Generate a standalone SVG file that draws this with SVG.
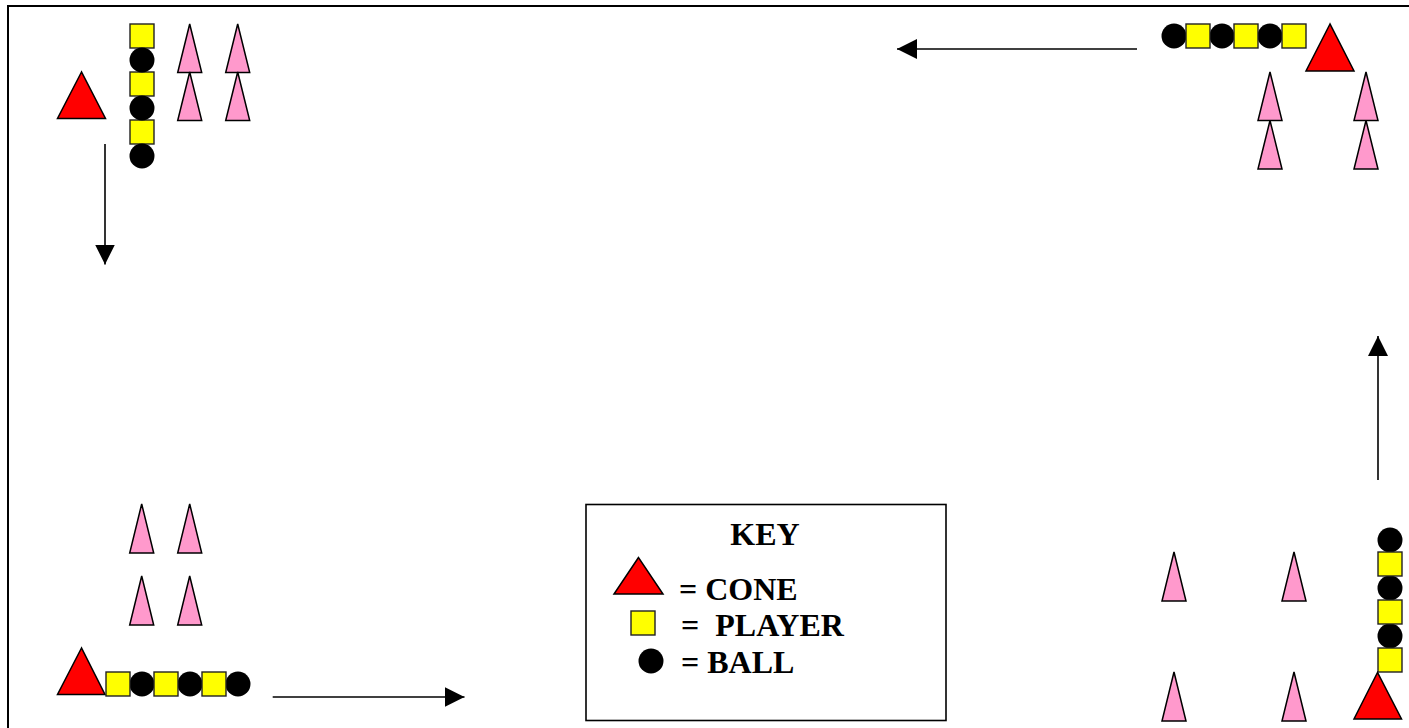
<svg xmlns="http://www.w3.org/2000/svg" width="1409" height="728" viewBox="0 0 1409 728">
<style>
.frame{fill:#fff;stroke:#000;stroke-width:2}
.cone{fill:#ff99cc;stroke:#000;stroke-width:1.5;stroke-linejoin:miter}
.red{fill:#ff0000;stroke:#000;stroke-width:1.5}
.player{fill:#ffff00;stroke:#222;stroke-width:1.4}
.ball{fill:#000}
.conn{stroke:#000;stroke-width:1.6;fill:none;marker-end:url(#arrow)}
.keybox{fill:#fff;stroke:#000;stroke-width:1.6}
.kt{font-family:"Liberation Serif","Times New Roman",serif;font-weight:bold;font-size:32px;fill:#000}
</style>
<defs>
<marker id="arrow" markerUnits="userSpaceOnUse" markerWidth="20" markerHeight="20" refX="20" refY="10" orient="auto">
<path d="M0,0 L20,10 L0,20 Z" fill="#000"/>
</marker>
</defs>
<rect x="0" y="0" width="1409" height="728" fill="#fff"/>
<rect class="frame" x="8" y="6" width="1420" height="740"/>

<g id="group-top-left">
<polygon class="red" points="81.5,72 57.5,118.5 105.5,118.5"/>
<rect class="player" x="130" y="24" width="24" height="24"/>
<rect class="player" x="130" y="72" width="24" height="24"/>
<rect class="player" x="130" y="120" width="24" height="24"/>
<circle class="ball" cx="142" cy="60" r="12.5"/>
<circle class="ball" cx="142" cy="108" r="12.5"/>
<circle class="ball" cx="142" cy="156" r="12.5"/>
<polygon class="cone" points="189.7,24 177.7,72.5 201.7,72.5"/>
<polygon class="cone" points="237.7,24 225.7,72.5 249.7,72.5"/>
<polygon class="cone" points="189.7,72 177.7,120.5 201.7,120.5"/>
<polygon class="cone" points="237.7,72 225.7,120.5 249.7,120.5"/>
</g>

<g id="group-top-right">
<circle class="ball" cx="1174" cy="36" r="12.5"/>
<circle class="ball" cx="1222" cy="36" r="12.5"/>
<circle class="ball" cx="1270" cy="36" r="12.5"/>
<rect class="player" x="1186" y="24" width="24" height="24"/>
<rect class="player" x="1234" y="24" width="24" height="24"/>
<rect class="player" x="1282" y="24" width="24" height="24"/>
<polygon class="red" points="1330,24 1306,71 1354,71"/>
<polygon class="cone" points="1270,72 1258,120.5 1282,120.5"/>
<polygon class="cone" points="1366,72 1354,120.5 1378,120.5"/>
<polygon class="cone" points="1270,120.5 1258,169 1282,169"/>
<polygon class="cone" points="1366,120.5 1354,169 1378,169"/>
</g>

<g id="group-bottom-left">
<polygon class="cone" points="141.7,504 129.7,553 153.7,553"/>
<polygon class="cone" points="189.7,504 177.7,553 201.7,553"/>
<polygon class="cone" points="141.7,576 129.7,625 153.7,625"/>
<polygon class="cone" points="189.7,576 177.7,625 201.7,625"/>
<polygon class="red" points="81.5,648 57.5,694.5 105,694.5"/>
<circle class="ball" cx="142" cy="684" r="12.5"/>
<circle class="ball" cx="190" cy="684" r="12.5"/>
<circle class="ball" cx="238" cy="684" r="12.5"/>
<rect class="player" x="106" y="672" width="24" height="24"/>
<rect class="player" x="154" y="672" width="24" height="24"/>
<rect class="player" x="202" y="672" width="24" height="24"/>
</g>

<g id="group-bottom-right">
<polygon class="cone" points="1174,552 1162,601 1186,601"/>
<polygon class="cone" points="1294,552 1282,601 1306,601"/>
<polygon class="cone" points="1174,672 1162,721 1186,721"/>
<polygon class="cone" points="1294,672 1282,721 1306,721"/>
<circle class="ball" cx="1390" cy="540" r="12.5"/>
<circle class="ball" cx="1390" cy="588" r="12.5"/>
<circle class="ball" cx="1390" cy="636" r="12.5"/>
<rect class="player" x="1378" y="552" width="24" height="24"/>
<rect class="player" x="1378" y="600" width="24" height="24"/>
<rect class="player" x="1378" y="648" width="24" height="24"/>
<polygon class="red" points="1377.5,672.5 1354,719 1401.5,719"/>
</g>

<g id="key">
<rect class="keybox" x="586" y="504.5" width="360" height="216"/>
<text class="kt" x="765" y="545" text-anchor="middle">KEY</text>
<polygon class="red" points="638.5,557.5 614,594 663,594"/>
<text class="kt" x="679" y="600" xml:space="preserve">= CONE</text>
<rect class="player" x="631" y="611" width="24" height="24"/>
<text class="kt" x="681" y="636" xml:space="preserve">=  PLAYER</text>
<circle class="ball" cx="651" cy="661" r="12.5"/>
<text class="kt" x="681" y="673" xml:space="preserve">= BALL</text>
</g>

<g id="connectors">
<line class="conn" x1="105" y1="144" x2="105" y2="264.5"/>
<line class="conn" x1="1137" y1="49" x2="897" y2="49"/>
<line class="conn" x1="272.7" y1="697" x2="464.5" y2="697"/>
<line class="conn" x1="1378" y1="480" x2="1378" y2="336"/>
</g>
</svg>
